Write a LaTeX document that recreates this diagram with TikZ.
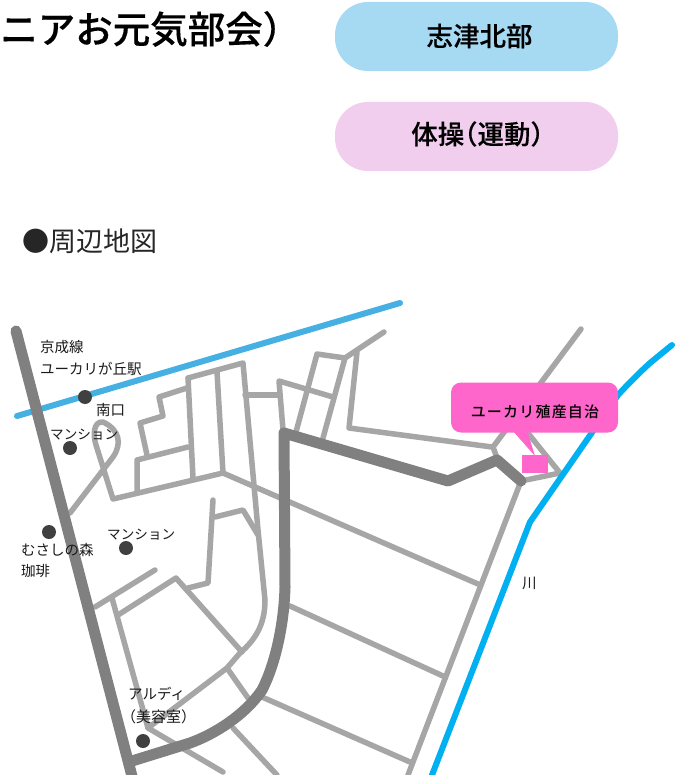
\documentclass[tikz,border=0pt]{standalone}
\usepackage{fontspec}
\newfontfamily\jp{Noto Sans CJK JP}
\newfontfamily\jpm{Noto Sans CJK JP Medium}[FakeBold=0.25]
\newfontfamily\jpc{Noto Sans CJK JP Medium}
\definecolor{pillblue}{HTML}{A6D9F2}
\definecolor{pillpink}{HTML}{F2CEEE}
\definecolor{lroad}{HTML}{A6A6A6}
\definecolor{droad}{HTML}{808080}
\definecolor{rail}{HTML}{45B0E1}
\definecolor{river}{HTML}{00B0F0}
\definecolor{hot}{HTML}{FF66CC}
\definecolor{dot}{HTML}{404040}
\definecolor{ink}{HTML}{1A1A1A}
\tikzset{
  lightroad/.style={draw=lroad,line width=5.5pt,line cap=round,line join=round},
  darkroad/.style={draw=droad,line width=11pt,line cap=round,line join=round},
  railline/.style={draw=rail,line width=6pt,line cap=round,line join=round},
  riverline/.style={draw=river,line width=6pt,line cap=round,line join=round},
  pill/.style={rounded corners=33pt,minimum width=283pt,minimum height=69pt,inner sep=0pt},
  pilltext/.style={inner sep=0pt,font=\jpm\fontsize{26.5}{27}\selectfont,text=black},
  maplabel/.style={inner sep=0pt,anchor=west,font=\jp\fontsize{14.5}{15}\selectfont,text=ink},
  mapdot/.style={circle,fill=dot,minimum size=14pt,inner sep=0pt},
}
\begin{document}
\begin{tikzpicture}[x=1pt,y=-1pt]
\useasboundingbox (0,0) rectangle (681,775);
\clip (0,0) rectangle (681,775);
\fill[white] (0,0) rectangle (681,775);
% heading
\node[inner sep=0pt,anchor=east,font=\jpm\fontsize{37.5}{38}\selectfont,text=black] (title) at (300.5,29) {ニアお元気部会）};
\node[pill,fill=pillblue] (p1) at (476.5,36.5) {};
\node[pilltext] (t1) at (479.5,36) {志津北部};
\node[pill,fill=pillpink] (p2) at (476.5,136.5) {};
\node[pilltext] (t2) at (477.5,134) {\addfontfeatures{RawFeature=+halt}体操（運動）};
\node[inner sep=0pt,anchor=west,font=\jp\fontsize{27}{27}\selectfont,text=black!85] (sub) at (22,241) {●周辺地図};
% light roads
\draw[lightroad] (70,513) -- (113,457) .. controls (122,444) and (120,430) .. (103,422) .. controls (93,421) and (93,436) .. (96,445) -- (113,499) -- (223,473) -- (217,372);
\draw[lightroad] (188,378) -- (243,363) -- (258,530) -- (265,600) .. controls (265,625) and (255,640) .. (240,653) -- (227,668) -- (148,728) -- (223,772);
\draw[lightroad] (188,378) -- (193,478);
\draw[lightroad] (187,388) -- (159,397) -- (163,416) -- (140,423) -- (147,455);
\draw[lightroad] (188,447) -- (137,460) -- (137,493);
\draw[lightroad] (223,473) -- (478,584);
\draw[lightroad] (245,395) -- (278,395);
\draw[lightroad] (283,430) -- (279,381) -- (333,397);
\draw[lightroad] (296,432) -- (317,354) -- (345,358) -- (323,438);
\draw[lightroad] (345,358) -- (384,332);
\draw[lightroad] (357,352) -- (349,428) -- (492,447);
\draw[lightroad] (581,329) -- (493,447) -- (497,458);
\draw[lightroad] (527,432) -- (560,473) -- (521,481) -- (408,775);
\draw[lightroad] (290,606) -- (443,676);
\draw[lightroad] (262,697) -- (410,762);
\draw[lightroad] (227,668) -- (248,698);
\draw[lightroad] (233,728) -- (277,775);
\draw[lightroad] (213,500) -- (208,583) -- (188,588);
\draw[lightroad] (215,517) -- (243,510) -- (258,535);
\draw[lightroad] (95,607) -- (155,570);
\draw[lightroad] (118,615) -- (176,578) -- (242,652);
\draw[lightroad] (112,598) -- (148,728);
% rail and river
\draw[railline] (17,416) -- (400,303);
\draw[riverline] (672,345) -- (650,363) .. controls (640,372) and (628,384) .. (618,395) -- (530,522) -- (432,775);
% main roads
\draw[darkroad] (16,331) -- (133,780);
\draw[darkroad] (132,761) -- (190,743) .. controls (215,734) and (245,715) .. (262,690) .. controls (275,665) and (284,625) .. (285,587) -- (284,433) -- (448,481) -- (497,460) -- (521,481);
% destination
\fill[hot] (522,455) rectangle (548,473);
\fill[hot] (512,430) -- (527,430) -- (535,456) -- cycle;
\node[fill=hot,rounded corners=10pt,minimum width=167pt,minimum height=50pt,inner sep=0pt] (call) at (534.5,407.5) {};
\node[inner sep=0pt,font=\jpc\fontsize{15}{15}\selectfont,text=black] (callt) at (535,412) {\addfontfeatures{LetterSpace=8}ユーカリ殖産自治};
% dots
\node[mapdot] (d1) at (85,397) {};
\node[mapdot] (d2) at (70,448) {};
\node[mapdot] (d3) at (49,532) {};
\node[mapdot] (d4) at (126,548) {};
\node[mapdot] (d5) at (143,741) {};
% labels
\node[maplabel] (l1) at (40,347) {京成線};
\node[maplabel] (l2) at (40,369) {ユーカリが丘駅};
\node[maplabel] (l3) at (96,410) {南口};
\node[maplabel,font=\jp\fontsize{13.6}{15}\selectfont] (l4) at (50,435) {マンション};
\node[maplabel,font=\jp\fontsize{13.6}{15}\selectfont] (l5) at (107,535) {マンション};
\node[maplabel] (l6) at (21,550) {むさしの森};
\node[maplabel] (l7) at (21,571) {珈琲};
\node[maplabel] (l8) at (128,694) {アルディ};
\node[maplabel,font=\jp\fontsize{15}{15}\selectfont] (l9) at (121,717) {（美容室）};
\node[maplabel] (l10) at (522,583) {川};
\end{tikzpicture}
\end{document}
